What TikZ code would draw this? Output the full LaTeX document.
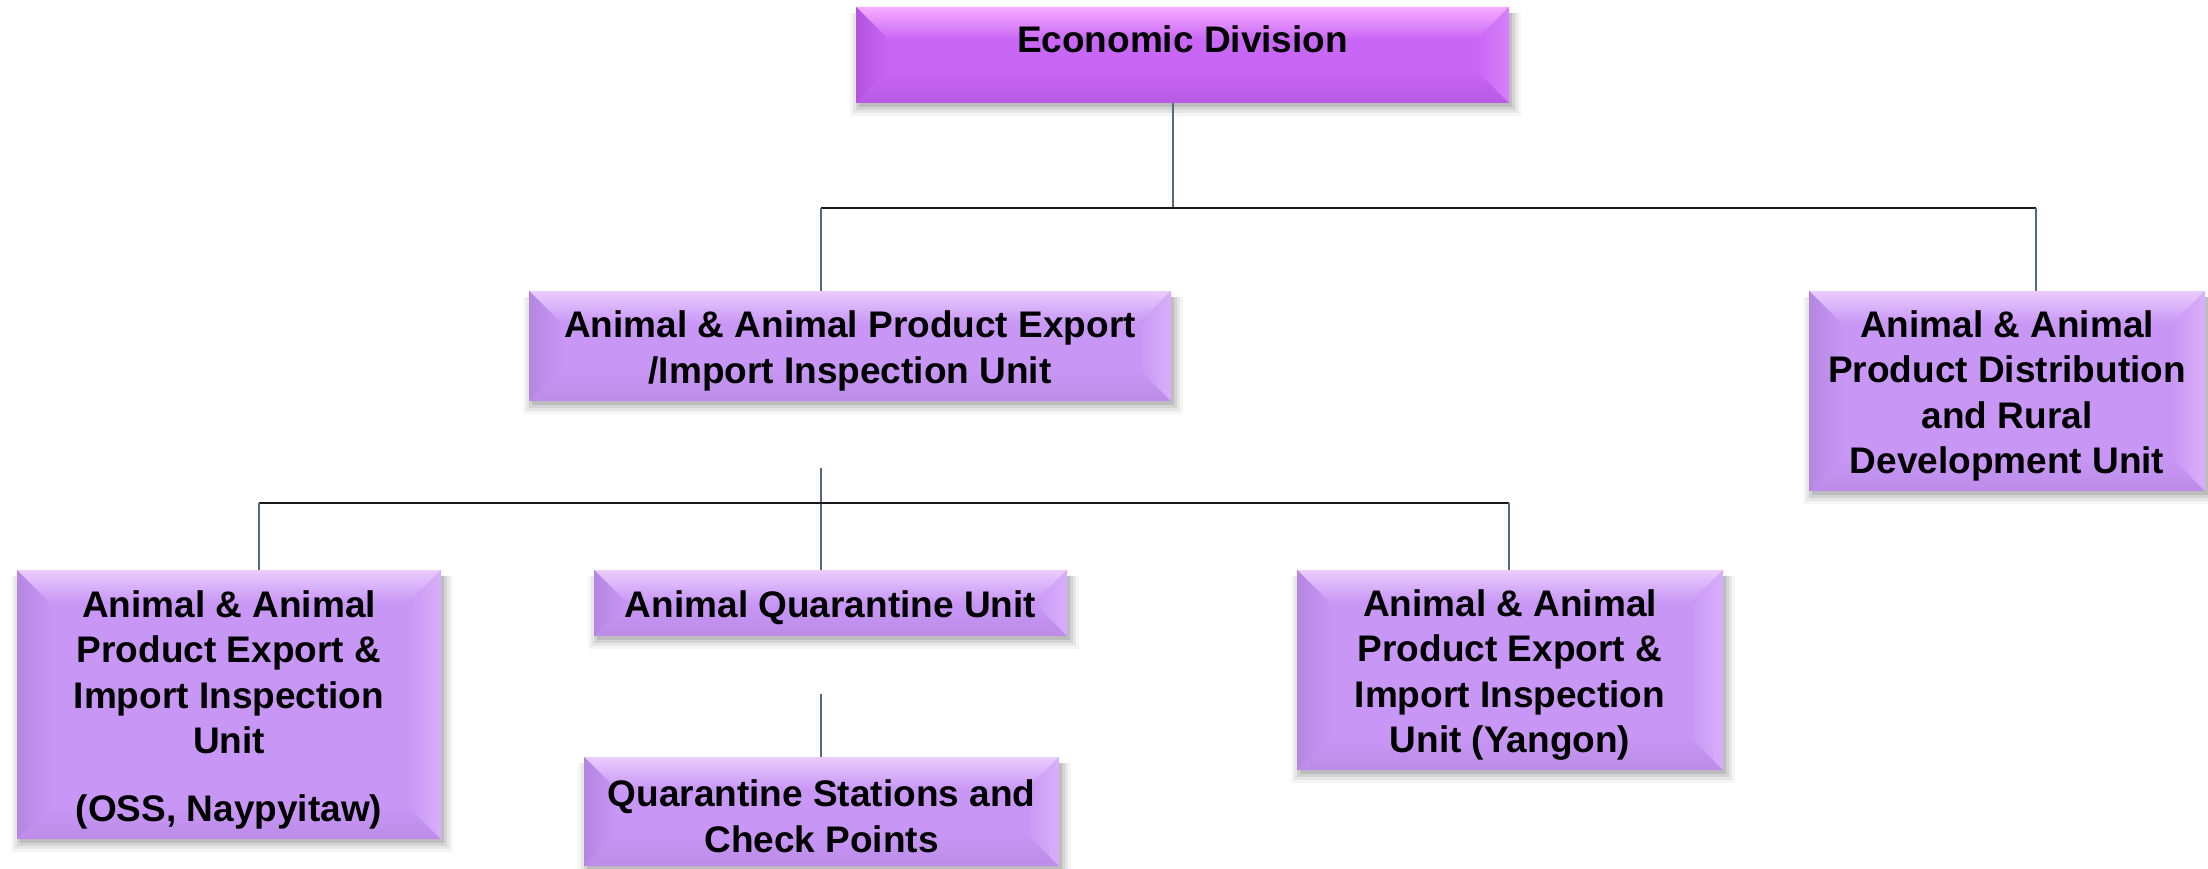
\documentclass[tikz,border=0pt]{standalone}
\usepackage{fontspec}
\setmainfont{Liberation Sans}
\definecolor{magmain}{RGB}{200,102,245}
\definecolor{magtop}{RGB}{246,172,255}
\definecolor{magleft}{RGB}{178,84,224}
\definecolor{magright}{RGB}{214,128,250}
\definecolor{magbot}{RGB}{184,90,230}
\definecolor{lavmain}{RGB}{200,150,245}
\definecolor{lavtop}{RGB}{234,204,253}
\definecolor{lavleft}{RGB}{180,134,226}
\definecolor{lavright}{RGB}{216,176,250}
\definecolor{lavbot}{RGB}{188,140,232}
\definecolor{linegray}{RGB}{88,104,128}
\newcommand\bevbox[8]{%
  \pgfmathsetmacro\bxa{#2}\pgfmathsetmacro\bya{#3}%
  \pgfmathsetmacro\bxb{#4}\pgfmathsetmacro\byb{#5}%
  \pgfmathsetmacro\bwd{#4-#2}\pgfmathsetmacro\bht{#5-#3}%
  \pgfmathsetmacro\bbv{min(33,(#5-#3)/2)}%
  \foreach \sa/\op in {10/0.04,7/0.06,4/0.08,1/0.10}{%
    \fill[black,opacity=\op] (\bxa+4-\sa,\bya+6) rectangle (\bxb+2+\sa,\byb+3+\sa);}%
  \fill[#6main] (\bxa,\bya) rectangle (\bxb,\byb);%
  \shade[top color=#6top, bottom color=#6main] (\bxa,\bya) -- (\bxb,\bya) -- (\bxb-\bbv,\bya+\bbv) -- (\bxa+\bbv,\bya+\bbv) -- cycle;%
  \shade[top color=#6main, bottom color=#6bot] (\bxa,\byb) -- (\bxb,\byb) -- (\bxb-\bbv,\byb-\bbv) -- (\bxa+\bbv,\byb-\bbv) -- cycle;%
  \shade[left color=#6left, right color=#6main] (\bxa,\bya) -- (\bxa+\bbv,\bya+\bbv) -- (\bxa+\bbv,\byb-\bbv) -- (\bxa,\byb) -- cycle;%
  \shade[left color=#6main, right color=#6right] (\bxb,\bya) -- (\bxb-\bbv,\bya+\bbv) -- (\bxb-\bbv,\byb-\bbv) -- (\bxb,\byb) -- cycle;%
  \node[boxnode, minimum width=\bwd pt, minimum height=\bht pt] (#1) at ({(#2+#4)/2},{(#3+#5)/2}) {};%
  \node[txt, yshift=#7] (#1t) at (#1.center) {#8};%
}
\begin{document}
\begin{tikzpicture}[x=1pt,y=-1pt,
  boxnode/.style={inner sep=0pt, outer sep=0pt},
  txt/.style={inner sep=0pt, align=center, font=\fontsize{37}{45.5}\selectfont\bfseries, text=black},
  vl/.style={draw=linegray, line width=2pt},
  hl/.style={draw=black!90, line width=2pt}]
\useasboundingbox (0,0) rectangle (2208,869);
\fill[white] (0,0) rectangle (2208,869);
\bevbox{E}{856}{7}{1509}{103}{mag}{16pt}{Economic Division}
\bevbox{A}{529}{291}{1171}{401}{lav}{-5pt}{Animal \& Animal Product Export\\/Import Inspection Unit}
\bevbox{D}{1809}{291}{2205}{491}{lav}{-5pt}{Animal \& Animal\\Product Distribution\\and Rural\\Development Unit}
\bevbox{L}{17}{570}{441}{839}{lav}{-5pt}{Animal \& Animal\\Product Export \&\\Import Inspection\\Unit\\[22pt](OSS, Naypyitaw)}
\bevbox{Q}{594}{570}{1067}{636}{lav}{-5pt}{Animal Quarantine Unit}
\bevbox{Y}{1297}{570}{1723}{770}{lav}{-5pt}{Animal \& Animal\\Product Export \&\\Import Inspection\\Unit (Yangon)}
\bevbox{S}{584}{757}{1059}{866}{lav}{-5pt}{Quarantine Stations and\\Check Points}
\coordinate (j1) at (1173,208);
\coordinate (ja) at (821,208);
\coordinate (jd) at (2036,208);
\coordinate (ja2) at (821,468);
\coordinate (jl) at (259,503);
\coordinate (jy) at (1509,503);
\coordinate (js) at (821,694);
\draw[vl] (E.south -| j1) -- (j1);
\draw[hl] (ja) -- (jd);
\draw[vl] (ja) -- (ja |- A.north);
\draw[vl] (jd) -- (jd |- D.north);
\draw[vl] (ja2) -- (ja2 |- Q.north);
\draw[hl] (jl) -- (jy);
\draw[vl] (jl) -- (jl |- L.north);
\draw[vl] (jy) -- (jy |- Y.north);
\draw[vl] (js) -- (js |- S.north);
\end{tikzpicture}
\end{document}
